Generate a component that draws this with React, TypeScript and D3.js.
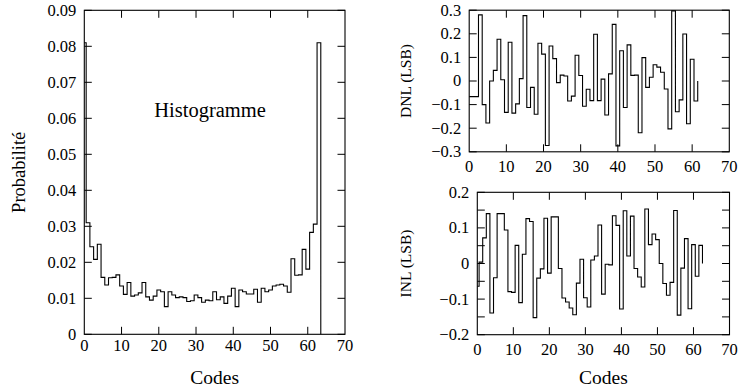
import React from "react";
import * as d3 from "d3";

const HIST: number[] = [
  0.081, 0.031, 0.0243, 0.0208, 0.025, 0.0158, 0.0137, 0.0157, 0.0158, 0.0165,
  0.0134, 0.0111, 0.0144, 0.0106, 0.0109, 0.0115, 0.0144, 0.0104, 0.0095, 0.0106,
  0.0123, 0.0118, 0.0077, 0.0118, 0.0109, 0.0102, 0.0104, 0.0102, 0.0091, 0.0093,
  0.0109, 0.0102, 0.0089, 0.0095, 0.0093, 0.0118, 0.0096, 0.0104, 0.0086, 0.0106,
  0.0128, 0.0077, 0.0123, 0.0118, 0.0112, 0.0112, 0.0125, 0.0089, 0.0128, 0.0118,
  0.0123, 0.0134, 0.0137, 0.0139, 0.0134, 0.0117, 0.021, 0.0164, 0.0165, 0.0236,
  0.0181, 0.0283, 0.0306, 0.081, 0,
];

const DNL: number[] = [
  -0.066, -0.066, -0.066, 0.28, -0.1, -0.178, 0.0, 0.045, 0.177, 0.005,
  -0.133, 0.164, -0.136, -0.097, 0.01, 0.277, -0.112, -0.027, -0.141, 0.16,
  0.114, -0.273, 0.148, 0.095, -0.007, 0.025, 0.021, -0.085, -0.064, 0.109,
  0.023, -0.107, -0.035, -0.083, 0.198, -0.083, 0.008, -0.144, 0.03, 0.24,
  -0.275, 0.128, -0.112, 0.153, 0.024, 0.025, -0.219, 0.099, -0.027, 0.016,
  0.069, 0.059, 0.037, -0.034, -0.203, 0.297, -0.13, -0.08, 0.199, -0.181,
  0.092, -0.085, 0.0,
];

const INL: number[] = [
  -0.064, 0.004, 0.072, 0.14, -0.139, -0.04, 0.14, 0.14, 0.094, -0.079,
  -0.081, 0.051, -0.11, 0.026, 0.126, 0.118, -0.152, -0.041, -0.015, 0.127,
  -0.027, 0.131, 0.131, -0.014, -0.097, -0.108, -0.125, -0.144, -0.055, 0.012,
  -0.096, -0.122, 0.01, 0.021, 0.108, -0.086, -0.002, -0.004, 0.134, 0.107,
  -0.128, 0.148, 0.021, 0.133, -0.014, -0.038, -0.066, 0.153, 0.053, 0.083,
  0.067, 0.0, -0.056, -0.089, -0.053, 0.149, -0.145, -0.013, 0.07, -0.127,
  0.053, -0.036, 0.051, 0.0,
];

const X_TICKS: number[] = [0, 10, 20, 30, 40, 50, 60, 70];
const HIST_Y_TICKS: number[] = [0, 0.01, 0.02, 0.03, 0.04, 0.05, 0.06, 0.07, 0.08, 0.09];
const DNL_Y_TICKS: number[] = [-0.3, -0.2, -0.1, 0, 0.1, 0.2, 0.3];
const INL_Y_LABELS: number[] = [-0.2, -0.1, 0, 0.1, 0.2];
const INL_Y_TICKS: number[] = [-0.2, -0.15, -0.1, -0.05, 0, 0.05, 0.1, 0.15, 0.2];

const FONT = "'Liberation Serif', 'Times New Roman', serif";

const fmt = (v: number) => {
  if (Math.abs(v) < 1e-9) return "0";
  const s = String(Math.round(v * 1000) / 1000);
  return s.replace("-", "\u2212");
};

type PanelProps = {
  id: string;
  x0: number;
  x1: number;
  y0: number;
  y1: number;
  yDomain: [number, number];
  values: number[];
  yTicks: number[];
  yLabels: number[];
  xLabelOffset: number;
  yLabel: string;
  yLabelX: number;
  yLabelSize: number;
  xTitle?: string;
};

function Panel(p: PanelProps) {
  const xs = d3.scaleLinear().domain([0, 70]).range([p.x0, p.x1]);
  const ys = d3.scaleLinear().domain(p.yDomain).range([p.y1, p.y0]);
  const pts: [number, number][] = p.values.map((v, i) => [i - 0.5, v]);
  const line = d3
    .line<[number, number]>()
    .x((d) => xs(d[0]))
    .y((d) => ys(d[1]))
    .curve(d3.curveStepAfter);
  const tl = 7.5;
  const fs = 16.5;
  return (
    <g>
      <defs>
        <clipPath id={p.id}>
          <rect x={p.x0} y={p.y0 - 1} width={p.x1 - p.x0} height={p.y1 - p.y0 + 2} />
        </clipPath>
      </defs>
      {X_TICKS.filter((t) => t > 0 && t < 70).map((t) => (
        <g key={"xt" + t}>
          <line x1={xs(t)} x2={xs(t)} y1={p.y1} y2={p.y1 - tl} stroke="#000" strokeWidth={1} />
          <line x1={xs(t)} x2={xs(t)} y1={p.y0} y2={p.y0 + tl} stroke="#000" strokeWidth={1} />
        </g>
      ))}
      {p.yTicks.map((t) => (
        <g key={"yt" + t}>
          <line x1={p.x0} x2={p.x0 + tl} y1={ys(t)} y2={ys(t)} stroke="#000" strokeWidth={1} />
          <line x1={p.x1} x2={p.x1 - tl} y1={ys(t)} y2={ys(t)} stroke="#000" strokeWidth={1} />
        </g>
      ))}
      <path d={line(pts) || ""} fill="none" stroke="#000" strokeWidth={1.1} clipPath={`url(#${p.id})`} />
      <rect x={p.x0} y={p.y0} width={p.x1 - p.x0} height={p.y1 - p.y0} fill="none" stroke="#000" strokeWidth={1.1} />
      {X_TICKS.map((t) => (
        <text key={"xl" + t} x={xs(t)} y={p.y1 + p.xLabelOffset} textAnchor="middle" fontSize={fs} fontFamily={FONT}>
          {fmt(t)}
        </text>
      ))}
      {p.yLabels.map((t) => (
        <text key={"yl" + t} x={p.x0 - 8} y={ys(t)} dy="0.33em" textAnchor="end" fontSize={fs} fontFamily={FONT}>
          {fmt(t)}
        </text>
      ))}
      <text
        transform={`translate(${p.yLabelX},${(p.y0 + p.y1) / 2}) rotate(-90)`}
        textAnchor="middle"
        dy="0.33em"
        fontSize={p.yLabelSize}
        fontFamily={FONT}
      >
        {p.yLabel}
      </text>
      {p.xTitle && (
        <text x={(p.x0 + p.x1) / 2} y={384} textAnchor="middle" fontSize={19.5} fontFamily={FONT}>
          {p.xTitle}
        </text>
      )}
    </g>
  );
}

export default function App() {
  return (
    <svg
      width={739}
      height={389}
      style={{ position: "absolute", left: 0, top: 0, display: "block", background: "#fff" }}
    >
      <rect x={0} y={0} width={739} height={389} fill="#fff" />
      <Panel
        id="clipH"
        x0={84.3}
        x1={345}
        y0={10.3}
        y1={334.3}
        yDomain={[0, 0.09]}
        values={HIST}
        yTicks={HIST_Y_TICKS}
        yLabels={HIST_Y_TICKS}
        xLabelOffset={17}
        yLabel="Probabilité"
        yLabelX={19}
        yLabelSize={18.5}
        xTitle="Codes"
      />
      <text x={210} y={110} dy="0.35em" textAnchor="middle" fontSize={20.5} fontFamily={FONT}>
        Histogramme
      </text>
      <Panel
        id="clipD"
        x0={469.2}
        x1={729.3}
        y0={10.2}
        y1={151.8}
        yDomain={[-0.3, 0.3]}
        values={DNL}
        yTicks={DNL_Y_TICKS}
        yLabels={DNL_Y_TICKS}
        xLabelOffset={20}
        yLabel="DNL (LSB)"
        yLabelX={406}
        yLabelSize={15.5}
      />
      <Panel
        id="clipI"
        x0={477.3}
        x1={729.5}
        y0={192.3}
        y1={334.7}
        yDomain={[-0.2, 0.2]}
        values={INL}
        yTicks={INL_Y_TICKS}
        yLabels={INL_Y_LABELS}
        xLabelOffset={20}
        yLabel="INL (LSB)"
        yLabelX={406}
        yLabelSize={15.5}
        xTitle="Codes"
      />
    </svg>
  );
}
